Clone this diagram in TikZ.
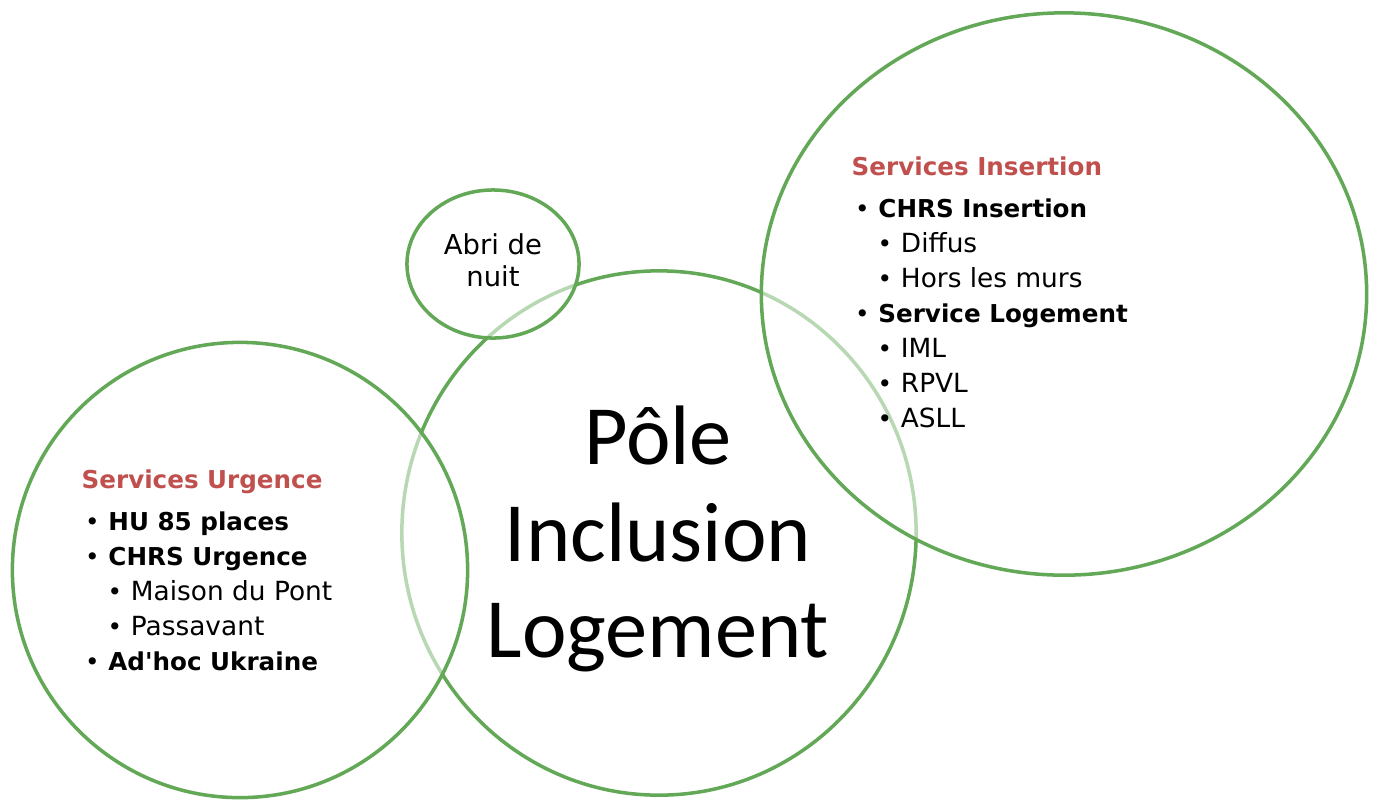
\documentclass[tikz,border=0pt]{standalone}
\usepackage{fontspec}
\setmainfont{DejaVu Sans}
\newfontfamily\polefont{Carlito}
\usetikzlibrary{shapes.geometric,positioning}

\definecolor{ringgreen}{HTML}{62A857}
\definecolor{titlered}{HTML}{C0504D}

% list lines: first and second level bullets
\newcommand{\lvlone}[1]{\hspace{1pt}\makebox[6.6pt][l]{\textbullet}\textbf{#1}}
\newcommand{\lvltwo}[1]{\hspace{7.4pt}\makebox[6.6pt][l]{\textbullet}{\fontsize{7.5}{9.96}\selectfont #1}}
\newcommand{\listhead}[1]{\textcolor{titlered}{\bfseries #1}}

\begin{document}
\begin{tikzpicture}[x=0.01cm,y=-0.01cm,
    ring/.style={draw=ringgreen, line width=1pt, ellipse, inner sep=0pt},
    veil/.style={ring, fill=white, fill opacity=0.55},
    listtext/.style={align=left, anchor=north west, inner sep=0pt,
      font=\fontsize{7}{9.96}\selectfont}]
  \useasboundingbox (0,0) rectangle (1378,799);

  % centre ring first, the others veil it
  \node[ring, minimum width=5.14cm, minimum height=5.24cm] (pole) at (659,533) {};
  \node[veil, minimum width=4.55cm, minimum height=4.55cm] (urgence) at (240,570) {};
  \node[veil, minimum width=6.05cm, minimum height=5.62cm] (insertion) at (1064,294) {};
  \node[veil, minimum width=1.72cm, minimum height=1.48cm] (abri) at (493,264) {};

  \node[align=center, inner sep=0pt, font=\polefont\fontsize{24}{27.5}\selectfont]
    (poletext) at (658,539) {Pôle\\Inclusion\\Logement};

  \node[align=center, inner sep=0pt, font=\fontsize{7.8}{9}\selectfont]
    (abritext) at (493,260) {Abri de\\nuit};

  \node[listtext] (urgencelist) at (81,469) {%
    \listhead{Services Urgence}\\[2pt]
    \lvlone{HU 85 places}\\
    \lvlone{CHRS Urgence}\\
    \lvltwo{Maison du Pont}\\
    \lvltwo{Passavant}\\
    \lvlone{Ad\textquotesingle hoc Ukraine}};

  \node[listtext] (insertionlist) at (851,156) {%
    \listhead{Services Insertion}\\[2pt]
    \lvlone{CHRS Insertion}\\
    \lvltwo{Diffus}\\
    \lvltwo{Hors les murs}\\
    \lvlone{Service Logement}\\
    \lvltwo{IML}\\
    \lvltwo{RPVL}\\
    \lvltwo{ASLL}};
\end{tikzpicture}
\end{document}
